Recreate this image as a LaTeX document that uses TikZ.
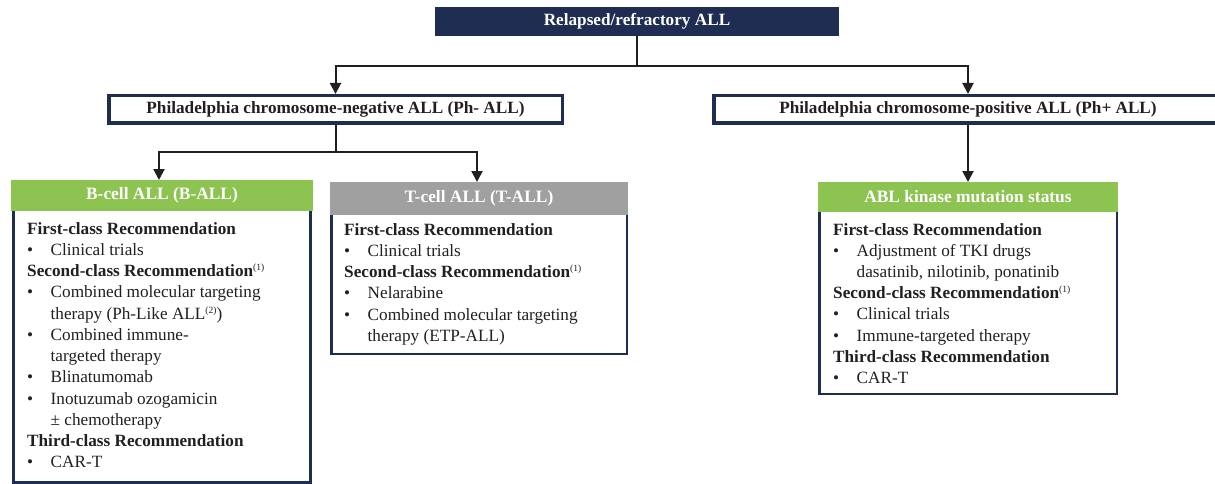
\documentclass[tikz,border=0pt]{standalone}
\usepackage{fontspec}
\setmainfont{Liberation Serif}
\usetikzlibrary{arrows.meta,calc}
\definecolor{navy}{RGB}{31,45,82}
\definecolor{hdgreen}{RGB}{141,195,80}
\definecolor{hdgray}{RGB}{160,160,160}
\definecolor{ink}{RGB}{35,31,32}
\newcommand\hd[1]{\textbf{#1}}
\newcommand\bl[1]{\makebox[23.5pt][l]{•}#1}
\newcommand\ct[1]{\hspace*{23.5pt}#1}
\newcommand\supn[1]{\raisebox{6pt}{\fontsize{9.5}{9.5}\selectfont\mdseries(#1)}}
\begin{document}
\begin{tikzpicture}[x=1pt,y=-1pt,
  every node/.style={text=ink, font=\fontsize{17.2}{21.3}\selectfont},
  conn/.style={draw=ink, line width=2pt},
  arr/.style={conn, -{Triangle[width=11pt,length=11pt]}},
  topbox/.style={fill=navy, text=white, font=\fontsize{17.2}{20}\selectfont\bfseries,
    minimum width=404pt, minimum height=29pt, inner sep=0pt, outer sep=0pt},
  phbox/.style={draw=navy, fill=white, line width=3.5pt,
    font=\fontsize{17.2}{20}\selectfont\bfseries, minimum height=27.5pt, inner sep=0pt},
  head/.style={text=white, font=\fontsize{17.4}{20}\selectfont\bfseries,
    inner sep=0pt, outer sep=0pt},
  body/.style={draw=navy, line width=2.5pt, fill=white},
  line/.style={anchor=base west, inner sep=0pt}
]
\useasboundingbox (0,0) rectangle (1215,484);
\fill[white] (0,0) rectangle (1215,484);

% top level
\node[topbox] (rr) at (637,21.5) {Relapsed/refractory ALL};
\node[phbox, minimum width=453.5pt] (phn) at (335.5,109.5) {Philadelphia chromosome-negative ALL (Ph- ALL)};
\node[phbox, minimum width=508.5pt] (php) at (968,109.5) {Philadelphia chromosome-positive ALL (Ph+ ALL)};

% bodies
\draw[body] (13.5,200) rectangle (310.5,482.5);
\draw[body] (331.25,205) rectangle (626.75,353.75);
\draw[body] (819.25,205) rectangle (1116.75,393.75);

% headers
\node[head, fill=hdgreen, minimum width=302pt, minimum height=31pt] (bh) at (162,195.5) {B-cell ALL (B-ALL)};
\node[head, fill=hdgray, minimum width=298pt, minimum height=33pt] (th) at (479,198.5) {T-cell ALL (T-ALL)};
\node[head, fill=hdgreen, minimum width=300pt, minimum height=30pt] (ah) at (968,197) {ABL kinase mutation status};

% connectors
\draw[conn] (rr.south) -- (rr.south |- 0,66) coordinate (j1);
\draw[arr] (j1) -| (phn.north);
\draw[arr] (j1) -| (php.north);
\draw[conn] (phn.south) -- (phn.south |- 0,152) coordinate (j2);
\draw[arr] (j2) -| ([xshift=-3pt]bh.north);
\draw[arr] (j2) -| ([xshift=-2pt]th.north);
\draw[arr] (php.south) -- (ah.north);

% B-cell text
\foreach \t [count=\i from 0] in {
  {\hd{First-class Recommendation}},
  {\bl{Clinical trials}},
  {\hd{Second-class Recommendation\supn{1}}},
  {\bl{Combined molecular targeting}},
  {\ct{therapy (Ph-Like ALL\supn{2})}},
  {\bl{Combined immune-}},
  {\ct{targeted therapy}},
  {\bl{Blinatumomab}},
  {\bl{Inotuzumab ozogamicin}},
  {\ct{± chemotherapy}},
  {\hd{Third-class Recommendation}},
  {\bl{CAR-T}}}
  \node[line] (b\i) at (27,{234+21.27*\i}) {\t};

% T-cell text
\foreach \t [count=\i from 0] in {
  {\hd{First-class Recommendation}},
  {\bl{Clinical trials}},
  {\hd{Second-class Recommendation\supn{1}}},
  {\bl{Nelarabine}},
  {\bl{Combined molecular targeting}},
  {\ct{therapy (ETP-ALL)}}}
  \node[line] (t\i) at (344,{235+21.3*\i}) {\t};

% ABL text
\foreach \t [count=\i from 0] in {
  {\hd{First-class Recommendation}},
  {\bl{Adjustment of TKI drugs}},
  {\ct{dasatinib, nilotinib, ponatinib}},
  {\hd{Second-class Recommendation\supn{1}}},
  {\bl{Clinical trials}},
  {\bl{Immune-targeted therapy}},
  {\hd{Third-class Recommendation}},
  {\bl{CAR-T}}}
  \node[line] (a\i) at (833,{235+21.2*\i}) {\t};
\end{tikzpicture}
\end{document}
